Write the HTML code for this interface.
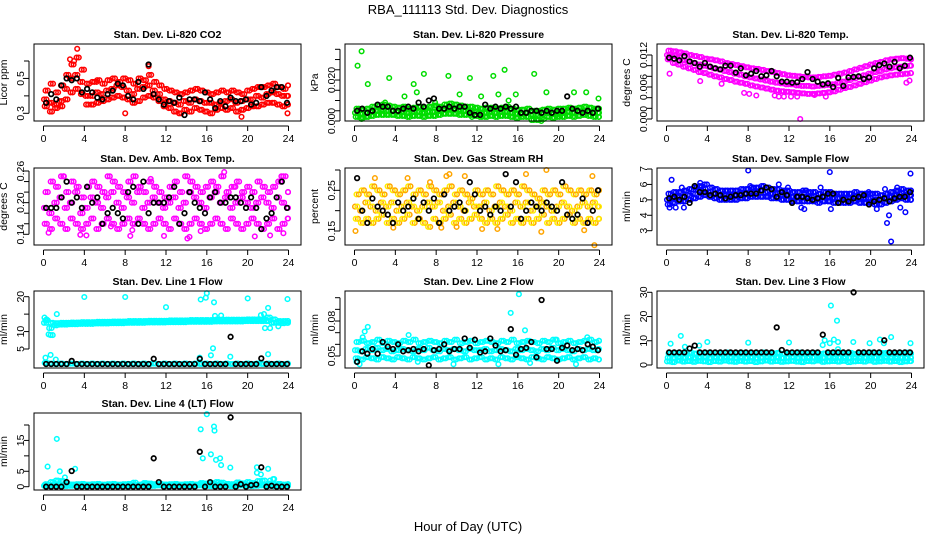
<!DOCTYPE html>
<html><head><meta charset="utf-8"><style>
html,body{margin:0;padding:0;background:#fff}
svg{display:block;font-family:"Liberation Sans",Arial,sans-serif}
</style></head><body>
<svg id="chart" width="936" height="540" viewBox="0 0 936 540">
<text x="468" y="14" text-anchor="middle" font-size="13">RBA_111113  Std. Dev. Diagnostics</text>
<text x="468" y="531" text-anchor="middle" font-size="13">Hour of Day (UTC)</text>
</svg>
<script>
// ---------- DATA ----------
const xTicks = [0,4,8,12,16,20,24];
// Panel 1 CO2
const co2A=[0.38,0.36,0.35,0.37,0.44,0.5,0.52,0.48,0.40,0.40,0.42,0.41,0.43,0.44,0.46,0.45,0.43,0.41,0.44,0.45,0.46,0.43,0.41,0.38,0.37,0.36,0.35,0.37,0.36,0.38,0.37,0.36,0.36,0.35,0.36,0.37,0.38,0.36,0.37,0.38,0.38,0.40,0.39,0.41,0.42,0.41,0.40,0.40];
const co2B=[0.43,0.47,0.42,0.46,0.52,0.58,0.62,0.55,0.47,0.48,0.49,0.47,0.49,0.50,0.48,0.50,0.49,0.47,0.50,0.49,0.52,0.48,0.46,0.44,0.43,0.42,0.41,0.42,0.43,0.44,0.43,0.42,0.41,0.42,0.43,0.42,0.43,0.42,0.41,0.43,0.44,0.45,0.45,0.46,0.47,0.45,0.44,0.46];
const co2C=[0.34,0.31,0.33,0.34,0.38,0.42,0.44,0.41,0.35,0.35,0.36,0.37,0.38,0.39,0.40,0.39,0.38,0.36,0.37,0.39,0.40,0.39,0.37,0.34,0.33,0.31,0.30,0.32,0.31,0.33,0.32,0.31,0.30,0.32,0.33,0.32,0.33,0.31,0.32,0.33,0.34,0.34,0.35,0.36,0.36,0.35,0.34,0.35];
const co2Out=[[3.3,0.67],[3.0,0.60],[2.6,0.61],[10.3,0.57],[19.4,0.28],[23.9,0.30],[8.0,0.30],[5.2,0.48]];
const co2K=[0.36,0.41,0.38,0.46,0.50,0.49,0.50,0.42,0.44,0.42,0.39,0.38,0.41,0.43,0.47,0.46,0.40,0.38,0.48,0.44,0.58,0.41,0.38,0.35,0.37,0.36,0.39,0.29,0.38,0.38,0.37,0.42,0.38,0.33,0.37,0.34,0.39,0.37,0.37,0.38,0.35,0.36,0.45,0.40,0.43,0.45,0.45,0.36];
// Panel 2 Pressure
const prA=[0.004,0.0035,0.004,0.0045,0.005,0.0055,0.005,0.005,0.0045,0.0045,0.004,0.0045,0.0045,0.004,0.0045,0.0045,0.005,0.0055,0.006,0.0055,0.0055,0.005,0.005,0.0045,0.004,0.004,0.0045,0.004,0.0045,0.0045,0.004,0.0035,0.0035,0.004,0.003,0.003,0.0035,0.004,0.0035,0.004,0.004,0.0045,0.004,0.0045,0.005,0.0045,0.004,0.004];
const prB=[0.006,0.0055,0.006,0.007,0.0075,0.008,0.0075,0.007,0.0065,0.007,0.006,0.0065,0.007,0.0065,0.007,0.0075,0.007,0.008,0.0085,0.008,0.0075,0.007,0.007,0.0065,0.006,0.0065,0.0065,0.006,0.0065,0.007,0.006,0.0055,0.0055,0.006,0.005,0.005,0.0055,0.006,0.0055,0.006,0.006,0.0065,0.006,0.0065,0.007,0.0065,0.006,0.006];
const prC=[0.002,0.0015,0.002,0.0025,0.003,0.003,0.003,0.003,0.0025,0.0025,0.002,0.0025,0.0025,0.002,0.0025,0.0025,0.003,0.0035,0.0035,0.0035,0.003,0.003,0.003,0.0025,0.002,0.002,0.0025,0.002,0.0025,0.0025,0.002,0.0015,0.002,0.002,0.0005,0.0005,0.001,0.002,0.0015,0.002,0.002,0.0025,0.002,0.0025,0.003,0.0025,0.002,0.002];
const prOut=[[0.3,0.027],[0.7,0.034],[1.3,0.018],[3.4,0.021],[4.9,0.012],[5.8,0.018],[6.1,0.014],[6.8,0.023],[7.9,0.009],[9.2,0.022],[10.3,0.013],[11.3,0.021],[12.4,0.012],[13.6,0.022],[14.1,0.013],[14.7,0.025],[15.1,0.010],[15.8,0.013],[17.6,0.023],[18.8,0.014],[21.5,0.014],[22.7,0.014],[23.9,0.011],[0.7,0.001],[18.3,0.000],[11.5,0.002],[19.8,0.003],[3.0,0.009]];
const prK=[0.005,0.006,0.004,0.005,0.008,0.007,0.007,0.005,0.005,0.006,0.007,0.006,0.009,0.007,0.010,0.011,0.006,0.006,0.007,0.006,0.007,0.007,0.004,0.003,0.003,0.008,0.006,0.007,0.006,0.007,0.006,0.007,0.004,0.004,0.005,0.005,0.004,0.005,0.004,0.005,0.005,0.012,0.006,0.005,0.004,0.005,0.004,0.006];
// Panel 3 Li-820 Temp
const tpA=[0.012,0.0118,0.0115,0.011,0.0108,0.0105,0.0102,0.01,0.0098,0.0095,0.0093,0.009,0.0088,0.0085,0.0083,0.008,0.0078,0.0076,0.0074,0.0072,0.007,0.0068,0.0067,0.0065,0.0065,0.0063,0.0062,0.0062,0.0061,0.0062,0.0063,0.0064,0.0065,0.0068,0.007,0.0073,0.0076,0.0079,0.0082,0.0085,0.0088,0.009,0.0093,0.0095,0.0097,0.0098,0.0099,0.01];
const tpB=[0.0128,0.0127,0.0125,0.0123,0.012,0.0118,0.0116,0.0113,0.0112,0.011,0.0108,0.0105,0.0103,0.0101,0.0099,0.0097,0.0095,0.0094,0.0092,0.009,0.0088,0.0086,0.0084,0.0082,0.0081,0.008,0.0079,0.0078,0.0078,0.0079,0.008,0.0081,0.0083,0.0085,0.0087,0.009,0.0093,0.0096,0.0099,0.0102,0.0105,0.0107,0.011,0.0112,0.0113,0.0114,0.0113,0.0112];
const tpC=[0.0112,0.0105,0.0102,0.0098,0.0095,0.0092,0.0088,0.0086,0.0083,0.008,0.0078,0.0075,0.0073,0.007,0.0068,0.0066,0.0063,0.0061,0.0059,0.0057,0.0055,0.0053,0.0052,0.0051,0.005,0.0049,0.0048,0.0047,0.0047,0.0048,0.0049,0.005,0.0052,0.0055,0.0058,0.006,0.0063,0.0066,0.0069,0.0072,0.0075,0.0078,0.008,0.0082,0.0083,0.0084,0.0085,0.0086];
const tpOut=[[0.3,0.0085],[3.3,0.0071],[5.4,0.0066],[7.6,0.0049],[8.1,0.0047],[8.8,0.0044],[10.6,0.0044],[11.0,0.0042],[11.5,0.0042],[12.2,0.0042],[12.8,0.0042],[13.1,0.0],[14.5,0.0045],[15.6,0.0042],[23.5,0.0068],[23.8,0.0072]];
const tpK=[0.0115,0.0113,0.0110,0.0118,0.0108,0.0105,0.0098,0.0105,0.0098,0.0095,0.0093,0.0100,0.0100,0.0087,0.0095,0.0082,0.0085,0.0090,0.0080,0.0082,0.0090,0.0080,0.0070,0.0070,0.0068,0.0069,0.0075,0.0088,0.0075,0.0070,0.0065,0.0067,0.0060,0.0077,0.0062,0.0078,0.0079,0.0080,0.0075,0.0078,0.0095,0.0101,0.0104,0.0098,0.0107,0.0095,0.0100,0.0115];
// Panel 4 Amb Box Temp
const abA=[0.19,0.18,0.20,0.21,0.19,0.20,0.22,0.18,0.19,0.21,0.20,0.19,0.21,0.22,0.20,0.19,0.21,0.20,0.22,0.19,0.20,0.21,0.20,0.19,0.20,0.21,0.19,0.20,0.22,0.21,0.20,0.19,0.21,0.22,0.20,0.21,0.19,0.20,0.21,0.20,0.19,0.20,0.21,0.20,0.19,0.21,0.20,0.19];
const abB=[0.22,0.24,0.23,0.25,0.22,0.24,0.23,0.21,0.23,0.24,0.23,0.22,0.25,0.24,0.23,0.22,0.24,0.25,0.23,0.22,0.24,0.23,0.22,0.21,0.23,0.24,0.22,0.25,0.24,0.23,0.22,0.23,0.24,0.23,0.25,0.22,0.23,0.24,0.22,0.23,0.22,0.24,0.23,0.22,0.23,0.24,0.25,0.22];
const abC=[0.16,0.15,0.17,0.16,0.15,0.17,0.16,0.15,0.16,0.17,0.15,0.16,0.17,0.16,0.15,0.16,0.17,0.16,0.17,0.16,0.15,0.16,0.17,0.16,0.15,0.17,0.16,0.15,0.16,0.17,0.16,0.15,0.16,0.17,0.16,0.15,0.17,0.16,0.15,0.16,0.17,0.16,0.15,0.16,0.17,0.15,0.16,0.17];
const abOut=[[0.5,0.143],[2.0,0.25],[3.6,0.139],[4.2,0.138],[6.6,0.155],[8.5,0.137],[8.7,0.148],[10.5,0.245],[11.8,0.137],[14.1,0.132],[14.3,0.135],[15.4,0.146],[17.7,0.258],[18.8,0.23],[20.7,0.136],[22.2,0.138],[23.3,0.25],[23.5,0.142]];
const abK=[0.19,0.19,0.19,0.21,0.24,0.20,0.21,0.19,0.23,0.20,0.21,0.16,0.18,0.19,0.18,0.17,0.22,0.23,0.16,0.24,0.18,0.20,0.20,0.20,0.21,0.23,0.16,0.18,0.22,0.20,0.19,0.18,0.21,0.22,0.20,0.20,0.21,0.21,0.20,0.19,0.21,0.19,0.15,0.17,0.18,0.21,0.24,0.19];
// Panel 5 Gas Stream RH
const rhA=[0.21,0.20,0.22,0.21,0.20,0.22,0.21,0.22,0.20,0.21,0.22,0.21,0.20,0.21,0.22,0.21,0.22,0.20,0.21,0.22,0.21,0.20,0.22,0.21,0.21,0.22,0.20,0.21,0.22,0.21,0.20,0.22,0.21,0.22,0.20,0.21,0.22,0.21,0.20,0.21,0.22,0.21,0.20,0.21,0.22,0.21,0.22,0.21];
const rhB=[0.24,0.25,0.24,0.26,0.25,0.24,0.26,0.25,0.24,0.25,0.26,0.24,0.25,0.24,0.26,0.25,0.24,0.25,0.26,0.24,0.25,0.24,0.23,0.25,0.24,0.25,0.24,0.26,0.25,0.24,0.25,0.24,0.26,0.25,0.24,0.23,0.25,0.24,0.25,0.24,0.26,0.25,0.24,0.25,0.24,0.25,0.24,0.25];
const rhC=[0.18,0.17,0.18,0.17,0.18,0.19,0.17,0.18,0.17,0.18,0.19,0.17,0.18,0.17,0.16,0.18,0.17,0.18,0.19,0.17,0.18,0.17,0.18,0.19,0.18,0.17,0.18,0.17,0.18,0.19,0.17,0.18,0.17,0.18,0.17,0.18,0.19,0.17,0.18,0.17,0.18,0.19,0.17,0.18,0.17,0.18,0.17,0.18];
const rhOut=[[0.1,0.15],[2.0,0.28],[3.8,0.158],[5.2,0.28],[7.4,0.27],[8.5,0.158],[9.0,0.285],[9.3,0.29],[10.0,0.16],[10.8,0.285],[12.5,0.155],[14.0,0.155],[16.8,0.29],[18.3,0.148],[18.8,0.30],[22.5,0.152],[23.3,0.285],[23.5,0.115]];
const rhK=[0.28,0.20,0.17,0.23,0.21,0.20,0.19,0.17,0.22,0.20,0.21,0.23,0.18,0.22,0.20,0.23,0.17,0.24,0.20,0.21,0.22,0.20,0.27,0.24,0.20,0.21,0.19,0.21,0.20,0.29,0.21,0.27,0.18,0.20,0.22,0.21,0.20,0.22,0.21,0.20,0.27,0.19,0.18,0.19,0.23,0.17,0.20,0.25];
// Panel 6 Sample Flow
const sfA=[5.0,5.1,5.2,5.2,5.3,5.4,5.6,5.7,5.5,5.4,5.3,5.3,5.3,5.3,5.4,5.4,5.5,5.5,5.6,5.5,5.4,5.4,5.3,5.3,5.2,5.2,5.2,5.2,5.2,5.1,5.2,5.2,5.1,5.1,5.1,5.1,5.2,5.1,5.1,5.1,5.0,5.0,5.1,5.2,5.3,5.4,5.3,5.3];
const sfB=[5.4,5.5,5.5,5.6,5.7,5.8,5.9,6.0,5.8,5.7,5.6,5.6,5.6,5.6,5.7,5.7,5.8,5.8,5.9,5.8,5.7,5.7,5.6,5.6,5.5,5.5,5.6,5.5,5.5,5.4,5.5,5.5,5.4,5.4,5.4,5.4,5.5,5.4,5.4,5.4,5.4,5.3,5.4,5.5,5.6,5.7,5.6,5.6];
const sfC=[4.7,4.8,4.9,4.9,5.0,5.1,5.2,5.3,5.2,5.1,5.0,5.0,5.0,5.0,5.1,5.1,5.2,5.2,5.2,5.2,5.1,5.1,5.0,5.0,4.9,4.9,4.9,4.9,4.9,4.8,4.9,4.9,4.8,4.8,4.8,4.8,4.9,4.8,4.8,4.8,4.7,4.7,4.8,4.9,5.0,5.1,5.0,5.0];
const sfOut=[[0.3,4.5],[0.5,6.3],[0.9,4.5],[1.5,5.8],[1.7,4.5],[3.3,6.1],[8.0,6.9],[8.2,5.9],[11.0,6.0],[11.9,5.8],[13.2,4.5],[13.5,4.4],[13.7,5.6],[15.1,5.8],[16.0,6.8],[16.1,4.4],[19.8,5.5],[20.6,4.4],[21.4,5.7],[21.6,3.5],[21.8,4.0],[22.0,2.3],[22.6,5.8],[22.9,4.5],[23.4,4.2],[23.9,6.7]];
const sfK=[5.1,5.2,5.0,5.2,4.8,5.9,5.5,5.5,5.3,5.4,5.3,5.1,5.2,5.3,5.3,5.4,5.4,5.4,5.6,5.8,5.7,5.2,5.5,5.3,4.8,5.2,5.2,5.1,5.0,5.1,5.2,5.4,5.4,4.8,5.0,4.9,5.1,5.2,5.3,4.7,4.9,5.0,5.1,4.9,5.1,5.2,5.2,5.5];
// Panel 7 Line 1 Flow
const l1A=[12.5,11.0,11.8,12.0,12.0,12.1,12.1,12.2,12.2,12.2,12.3,12.3,12.3,12.4,12.4,12.4,12.5,12.5,12.5,12.5,12.6,12.6,12.6,12.6,12.7,12.7,12.7,12.7,12.8,12.8,12.8,12.8,12.8,12.9,12.9,12.9,12.9,12.9,12.9,13.0,13.0,13.0,13.0,13.0,12.5,12.5,12.4,12.5];
const l1B=[13.2,12.5,12.4,12.5,12.5,12.6,12.6,12.7,12.7,12.7,12.8,12.8,12.8,12.9,12.9,12.9,13.0,13.0,13.0,13.0,13.1,13.1,13.1,13.1,13.2,13.2,13.2,13.2,13.3,13.3,13.3,13.3,13.3,13.4,13.4,13.4,13.4,13.4,13.4,13.5,13.5,13.5,13.5,14.0,13.5,13.0,13.0,13.0];
const l1C=[1.0,0.8,0.7,0.8,0.7,0.8,0.7,0.8,0.7,0.8,0.7,0.8,0.7,0.8,0.7,0.8,0.7,0.8,0.7,0.8,0.7,0.8,0.7,0.8,0.7,0.8,0.7,0.8,0.7,0.8,0.7,0.8,0.7,0.8,0.7,0.8,0.7,0.8,0.7,0.8,0.7,0.8,0.7,0.8,0.7,0.8,0.7,0.8];
const l1Out=[[0.1,14],[0.3,13.5],[0.5,9.2],[0.7,9.0],[0.9,9.0],[1.3,15.0],[0.2,2.5],[0.7,3.3],[1.2,2.0],[4.0,19.9],[8.0,19.9],[12.0,17.0],[15.4,19.2],[15.9,19.7],[16.0,21],[16.4,3.2],[16.6,5.2],[16.7,18.4],[16.8,14.5],[17.4,14.6],[15.3,2.5],[18.3,2.8],[20.0,19.5],[21.3,14.7],[21.6,15.0],[22.0,16.8],[22.0,3.5],[21.7,11.0],[22.2,11.0],[23.9,19.3],[23.0,11.5]];
const l1K=[0.7,0.7,0.7,0.7,0.7,1.6,0.7,0.7,0.7,0.7,0.7,0.7,0.7,0.7,0.7,0.7,0.7,0.7,0.7,0.7,0.7,2.2,0.7,0.7,0.7,0.7,0.7,0.7,0.7,0.7,2.2,0.7,0.7,0.7,0.7,0.7,8.5,0.7,0.7,0.7,0.7,0.7,2.3,0.7,0.7,0.7,0.7,0.7];
// Panel 8 Line 2 Flow
const l2A=[0.055,0.054,0.056,0.055,0.057,0.055,0.056,0.054,0.055,0.056,0.055,0.054,0.056,0.055,0.057,0.055,0.054,0.056,0.055,0.056,0.055,0.054,0.056,0.055,0.055,0.056,0.054,0.055,0.056,0.055,0.054,0.056,0.055,0.056,0.055,0.054,0.056,0.055,0.057,0.055,0.056,0.055,0.054,0.056,0.055,0.056,0.055,0.056];
const l2B=[0.062,0.063,0.061,0.062,0.064,0.061,0.063,0.062,0.061,0.063,0.062,0.064,0.061,0.062,0.063,0.062,0.061,0.063,0.062,0.064,0.061,0.062,0.063,0.061,0.062,0.063,0.062,0.061,0.063,0.062,0.064,0.061,0.062,0.063,0.062,0.061,0.063,0.062,0.064,0.061,0.062,0.063,0.061,0.062,0.063,0.064,0.062,0.063];
const l2C=[0.048,0.047,0.049,0.048,0.047,0.049,0.048,0.047,0.049,0.048,0.047,0.049,0.048,0.047,0.048,0.049,0.047,0.048,0.049,0.047,0.048,0.049,0.047,0.048,0.049,0.047,0.048,0.047,0.049,0.048,0.047,0.049,0.048,0.047,0.049,0.048,0.047,0.049,0.048,0.047,0.048,0.049,0.047,0.048,0.049,0.047,0.048,0.047];
const l2Out=[[0.2,0.045],[0.5,0.043],[0.8,0.066],[1.0,0.071],[1.3,0.075],[5.3,0.068],[6.2,0.045],[9.7,0.043],[14.1,0.043],[15.3,0.087],[16.1,0.103],[16.7,0.072],[17.2,0.044],[19.8,0.064],[21.7,0.043],[22.8,0.066]];
const l2K=[0.045,0.054,0.052,0.056,0.052,0.062,0.058,0.056,0.060,0.054,0.055,0.056,0.054,0.056,0.042,0.055,0.056,0.060,0.054,0.056,0.056,0.065,0.057,0.064,0.053,0.054,0.065,0.059,0.054,0.055,0.073,0.051,0.056,0.057,0.062,0.049,0.098,0.056,0.056,0.046,0.057,0.059,0.055,0.056,0.055,0.060,0.058,0.055];
// Panel 9 Line 3 Flow
const l3A=[1.5,1.2,1.8,1.4,1.6,1.3,1.7,1.5,1.2,1.6,1.4,1.8,1.5,1.3,1.7,1.4,1.6,1.2,1.5,1.8,1.4,1.6,1.3,1.5,1.7,1.4,1.2,1.6,1.5,1.8,1.3,1.5,1.6,1.4,1.7,1.2,1.5,1.6,1.4,1.8,1.3,1.5,1.7,1.4,1.6,1.2,1.5,1.6];
const l3B=[4.8,5.0,4.6,4.9,5.1,4.7,4.8,5.0,4.6,4.9,4.8,5.1,4.7,4.9,5.0,4.6,4.8,4.9,5.1,4.7,4.8,5.0,4.6,4.9,4.8,5.1,4.7,4.9,5.0,4.6,4.8,4.9,5.1,4.7,4.8,5.0,4.6,4.9,4.8,5.1,4.7,4.9,5.0,4.6,4.8,4.9,5.1,4.7];
const l3C=[3.0,2.8,3.2,2.9,3.1,2.7,3.0,3.3,2.8,3.1,2.9,3.0,3.2,2.8,3.0,2.9,3.1,2.7,3.0,3.2,2.8,3.1,2.9,3.0,3.2,2.8,3.0,2.9,3.1,2.7,3.0,3.3,2.8,3.1,2.9,3.0,3.2,2.8,3.0,2.9,3.1,2.7,3.0,3.2,2.8,3.1,2.9,3.0];
const l3Out=[[0.4,8.8],[1.4,12.0],[1.8,7.5],[3.2,8.0],[4.0,9.5],[8.0,9.2],[12.0,9.3],[15.3,8.2],[15.5,10.2],[16.0,9.0],[16.1,24.5],[16.4,10.5],[16.7,18.3],[16.8,9.5],[16.8,6.5],[18.3,9.5],[19.9,9.0],[20.9,10.5],[21.3,9.0],[22.0,11.5],[23.9,9.0]];
const l3K=[5.2,5.2,5.2,5.2,6.8,8.0,5.2,5.2,5.2,5.2,5.2,5.2,5.2,5.2,5.2,5.2,5.2,5.2,5.2,5.2,5.2,15.5,6.2,5.2,5.2,5.2,5.2,5.2,5.2,5.2,12.5,5.2,5.2,5.2,5.2,5.2,30.0,5.2,5.2,5.2,5.2,5.2,10.2,5.2,5.2,5.2,5.2,5.2];
// Panel 10 Line 4 (LT) Flow
const l4A=[0.3,0.2,0.4,0.3,0.2,0.3,0.4,0.3,0.2,0.3,0.4,0.3,0.2,0.3,0.4,0.3,0.2,0.3,0.4,0.3,0.2,0.3,0.4,0.3,0.2,0.3,0.4,0.3,0.2,0.3,0.4,0.3,0.2,0.3,0.4,0.3,0.2,0.3,0.4,0.3,0.2,0.3,0.4,0.3,0.2,0.3,0.4,0.3];
const l4B=[0.8,1.5,2.0,1.8,0.9,0.7,0.8,0.9,0.7,0.8,0.9,0.7,0.8,0.9,0.7,0.8,0.9,1.3,0.7,1.2,1.0,0.8,0.9,0.7,0.8,0.9,0.7,0.8,0.9,0.7,1.2,1.0,1.2,1.5,1.3,0.9,0.8,1.4,1.1,1.5,1.2,1.8,2.0,1.0,0.8,0.9,0.7,0.8];
const l4C=[0.6,0.5,0.7,0.6,0.5,0.6,0.7,0.5,0.6,0.7,0.6,0.5,0.6,0.7,0.5,0.6,0.7,0.6,0.5,0.6,0.7,0.5,0.6,0.7,0.6,0.5,0.6,0.7,0.5,0.6,0.7,0.6,0.5,0.6,0.7,0.5,0.6,0.7,0.6,0.5,0.6,0.7,0.5,0.6,0.7,0.6,0.5,0.6];
const l4Out=[[0.4,6.5],[1.3,15.5],[1.6,5.0],[2.1,3.0],[3.1,5.8],[15.4,18.6],[15.6,9.2],[16.0,23.5],[16.4,10.5],[16.7,19.5],[16.75,18.2],[16.9,8.7],[17.3,9.2],[17.4,7.0],[18.3,6.2],[20.9,6.3],[20.9,4.5],[21.3,4.0],[22.0,5.8],[22.2,2.0],[22.5,2.5],[22.6,2.5]];
const l4K=[0,0,0,0,1.5,5.1,0,0,0,0,0,0,0,0,0,0,0,0,0,0,0,9.2,1.5,0,0,0,0,0,0,0,11.3,0,1.5,0,0,0,22.5,0,0.8,0,0.5,0.7,6.3,0,0.3,0,0,0];

// ---------- DRAWING ----------
const NS='http://www.w3.org/2000/svg';
const svg=document.getElementById('chart');
const colLeft=[34,345,657], rowTop=[44,168,291,413], BW=267, BH=77;
function mk(tag,attrs,parent){const e=document.createElementNS(NS,tag);for(const k in attrs)e.setAttribute(k,attrs[k]);(parent||svg).appendChild(e);return e;}

const panels=[
 {id:'co2',c:0,r:0,title:'Stan. Dev. Li-820 CO2',ylab:'Licor ppm',col:'#ff0000',v0:0.3,p0:113.3,v1:0.6,p1:61,ticks:[0.3,0.4,0.5,0.6],labs:[0.3,0.5],fmt:1,A:co2A,B:co2B,C:co2C,O:co2Out,K:co2K},
 {id:'pressure',c:1,r:0,title:'Stan. Dev. Li-820 Pressure',ylab:'kPa',col:'#00dd00',v0:0,p0:121,v1:0.035,p1:49.3,ticks:[0,0.005,0.01,0.015,0.02,0.025,0.03,0.035],labs:[0,0.02],fmt:3,A:prA,B:prB,C:prC,O:prOut,K:prK},
 {id:'temp',c:2,r:0,title:'Stan. Dev. Li-820 Temp.',ylab:'degrees C',col:'#ff00ff',v0:0,p0:119,v1:0.012,p1:55,ticks:[0,0.002,0.004,0.006,0.008,0.01,0.012],labs:[0,0.006,0.012],fmt:3,A:tpA,B:tpB,C:tpC,O:tpOut,K:tpK},
 {id:'amb-temp',c:0,r:1,title:'Stan. Dev. Amb. Box Temp.',ylab:'degrees C',col:'#ff00ff',v0:0.14,p0:234.3,v1:0.26,p1:171,ticks:[0.14,0.16,0.18,0.2,0.22,0.24,0.26],labs:[0.14,0.2,0.26],fmt:2,A:abA,B:abB,C:abC,O:abOut,K:abK},
 {id:'rh',c:1,r:1,title:'Stan. Dev. Gas Stream RH',ylab:'percent',col:'#ffa500',col2:'#ffee00',v0:0.15,p0:231,v1:0.30,p1:170,ticks:[0.15,0.2,0.25,0.3],labs:[0.15,0.25],fmt:2,A:rhA,B:rhB,C:rhC,O:rhOut,K:rhK},
 {id:'sample-flow',c:2,r:1,title:'Stan. Dev. Sample Flow',ylab:'ml/min',col:'#0000ff',v0:3,p0:230.7,v1:7,p1:169,ticks:[3,4,5,6,7],labs:[3,4,5,6,7],fmt:0,A:sfA,B:sfB,C:sfC,O:sfOut,K:sfK},
 {id:'line1',c:0,r:2,title:'Stan. Dev. Line 1 Flow',ylab:'ml/min',col:'#00ffff',v0:5,p0:349,v1:20,p1:296.7,ticks:[5,10,15,20],labs:[5,10,20],fmt:0,A:l1A,B:l1B,C:l1C,O:l1Out,K:l1K},
 {id:'line2',c:1,r:2,title:'Stan. Dev. Line 2 Flow',ylab:'ml/min',col:'#00ffff',v0:0.05,p0:356,v1:0.1,p1:297.7,ticks:[0.05,0.06,0.07,0.08,0.09,0.1],labs:[0.05,0.08],fmt:2,A:l2A,B:l2B,C:l2C,O:l2Out,K:l2K},
 {id:'line3',c:2,r:2,title:'Stan. Dev. Line 3 Flow',ylab:'ml/min',col:'#00ffff',v0:0,p0:365,v1:30,p1:292.3,ticks:[0,10,20,30],labs:[0,10,20,30],fmt:0,A:l3A,B:l3B,C:l3C,O:l3Out,K:l3K},
 {id:'line4',c:0,r:3,title:'Stan. Dev. Line 4 (LT) Flow',ylab:'ml/min',col:'#00ffff',v0:0,p0:486.7,v1:20,p1:425,ticks:[0,5,10,15,20],labs:[0,5,15],fmt:0,A:l4A,B:l4B,C:l4C,O:l4Out,K:l4K}
];

panels.forEach(p=>{
  const L=colLeft[p.c], T=rowTop[p.r];
  const g=mk('g',{});
  
  
  const xs=h=>L+9.5+h*(245/24);
  const ys=v=>p.p0+(v-p.v0)*(p.p1-p.p0)/(p.v1-p.v0);
  const t=mk('text',{x:L+BW/2,y:T-6,'text-anchor':'middle','font-size':'10.5','font-weight':'bold'},g);
  t.textContent=p.title;
  
  
  const xa=mk('g',{},g);
  
  
  mk('line',{x1:xs(0),x2:xs(24),y1:T+BH+5,y2:T+BH+5,stroke:'#000'},xa);
  xTicks.forEach(v=>{
    mk('line',{x1:xs(v),x2:xs(v),y1:T+BH+5,y2:T+BH+10,stroke:'#000'},xa);
    const tl=mk('text',{x:xs(v),y:T+BH+21,'text-anchor':'middle','font-size':'10.5'},xa);
    tl.textContent=v;
  });
  const ya=mk('g',{},g);
  
  
  mk('line',{x1:L-5,x2:L-5,y1:ys(p.ticks[0]),y2:ys(p.ticks[p.ticks.length-1]),stroke:'#000'},ya);
  p.ticks.forEach(v=>{
    mk('line',{x1:L-10,x2:L-5,y1:ys(v),y2:ys(v),stroke:'#000'},ya);
  });
  p.labs.forEach(v=>{
    const yy=ys(v);
    const tl=mk('text',{x:L-14,y:yy,'text-anchor':'middle','font-size':'10.5',transform:`rotate(-90 ${L-14} ${yy})`,dy:'4'},ya);
    tl.textContent=v.toFixed(p.fmt);
  });
  const yt=mk('text',{x:L-27,y:T+BH/2,'text-anchor':'middle','font-size':'10.5',transform:`rotate(-90 ${L-27} ${T+BH/2})`},g);
  yt.textContent=p.ylab;
  
  
  const pts=mk('g',{fill:'none'},g);
  
  
  const ring=(h,v,color,cls,w)=>{
    const c=mk('circle',{cx:xs(h).toFixed(1),cy:ys(v).toFixed(1),r:2.3,stroke:color,'stroke-width':w},pts);
    
    
  };
  const n=p.A.length;
  const step=23.8/(n-1);
  [[p.A,0.05],[p.B,0.2],[p.C,0.33],[p.A,0.28],[p.B,0.42],[p.C,0.12]].forEach(([arr,off],k)=>{
    arr.forEach((v,i)=>{
      const h=Math.min(23.95,off+i*step);
      ring(h,v,(p.col2&&k%2)?p.col2:p.col,'colored-point',1.5);
    });
  });
  p.O.forEach(([h,v])=>ring(h,v,p.col,'colored-outlier',1.5));
  p.K.forEach((v,i)=>ring(0.25+i*0.5*(23.6/23.5),v,'#000','black-point',1.7));
  const bx=mk('rect',{x:L,y:T,width:BW,height:BH,fill:'none',stroke:'#000'},g);
  
  
});
</script>
</body></html>
